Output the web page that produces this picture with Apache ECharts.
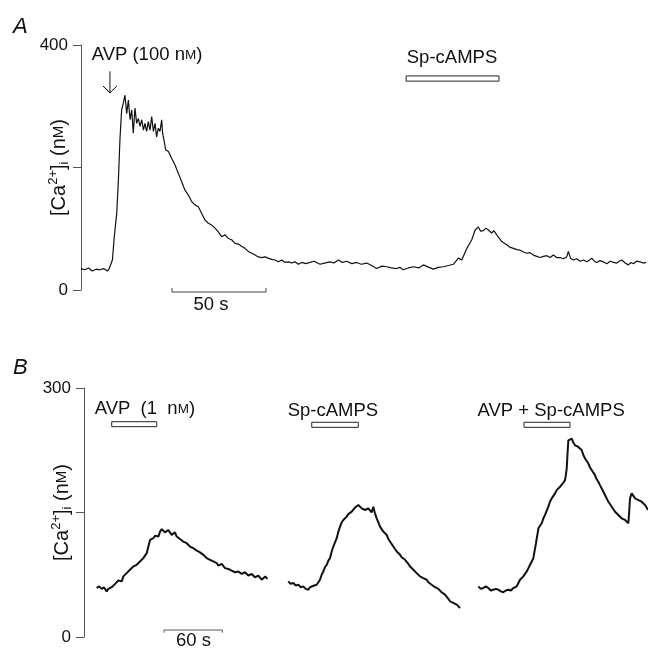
<!DOCTYPE html>
<html>
<head>
    <meta charset="UTF-8">
    <title>[Ca2+]i traces</title>
    <script src="https://cdn.jsdelivr.net/npm/echarts@6/dist/echarts.min.js"></script>
    <style>
        html, body { margin: 0; padding: 0; background: #fff; }
        #chart { width: 648px; height: 650px; }
    </style>
</head>
<body>
<div id="chart"></div>
<script>
    // panel A: [time (s), [Ca2+]i (nM)]
    const traceA = [
        [0,35],[2,33],[4,36],[6,31],[8,34],[10,33],[12,35],[14,31],[15,35],[16.7,49],[17.7,87],[19,125],[19.9,180],[20.7,245],
        [21.6,294],[22.5,305],[23.4,318],[24.3,288],[25.2,310],[26.1,278],[27,294],[27.8,256],[28.7,297],[29.6,272],[30.5,280],
        [31.4,267],[32.3,278],[33.2,261],[34,272],[34.9,259],[35.8,275],[36.7,261],[37.6,283],[38.5,259],[39.4,272],[40.2,250],
        [41.1,264],[42,259],[42.9,278],[43.4,256],[44.3,242],[45,229],[46.5,226],[48.2,215],[50,204],[51.8,190],[53.5,177],
        [55.3,163],[57.1,155],[58.9,144],[60.6,139],[62.4,136],[64.2,125],[66,114],[67.7,109],[69.5,106],[71.3,101],[73,95],
        [74.8,87],[76.6,90],[78.4,84],[80.1,82],[81.9,76],[83.7,75],[85.5,71],[87.2,68],[89,63],[90.8,60],[92.6,57],[94.3,54],
        [96.1,53],[97.9,54],[99.6,52],[101.4,50],[103.2,49],[105,46],[106.7,49],[108.5,45],[110.3,46],[112,44],[113.8,46],
        [115.6,42],[117.4,45],[119.5,43],[121.8,45],[124,47],[127.1,42],[129.5,44],[132.4,46],[134.5,44],[136.9,49],[139,45],
        [141.3,47],[144,43],[146.6,45],[149,42],[152,44],[154.5,40],[157.3,35],[160,39],[162.6,38],[165,36],[167.9,35],
        [169.5,37],[171.4,33],[174,36],[176.8,38],[179.5,36],[182.1,41],[185,37],[187.4,34],[190,37],[192.7,38],[195.5,40],
        [198,42],[200.7,52],[202.5,49],[205.2,68],[207.8,82],[209.6,98],[211.3,103],[212.5,96],[214,97],[215.3,101],[216.6,98],
        [218.4,93],[219.5,97],[221.1,90],[223.8,79],[226.4,74],[228,70],[230,68],[231.8,66],[233.5,65],[235.3,62],[237.1,60],
        [238.8,61],[240.6,57],[242.4,55],[244.1,53],[246,55],[247.7,56],[249.5,53],[251.2,57],[253,53],[254.8,53],[256.5,51],
        [258.3,54],[259.2,63],[260.3,52],[261.9,49],[263.6,51],[265.4,47],[267.2,49],[269,46],[270.5,49],[271.6,52],[273,47],
        [274.3,45],[276,48],[277.8,46],[279.6,43],[281.4,47],[283.2,45],[284.9,44],[286.2,47],[287.6,49],[289.4,44],[291.1,41],
        [292.5,45],[293.8,43],[295.5,47],[297.3,46],[299,44],[300.5,45]
    ];

    // panel B: three separate recordings on one time axis
    const traceB1 = [
        [13,59],[15.5,61],[18.2,58],[20.5,60],[23.3,55],[25,58],[26.7,57],[28.5,60],[30.2,61],[32,64],[33.6,65],[35.3,68],
        [37,69],[38.8,67],[40.5,73],[42.2,71],[43.9,77],[45.6,75],[47.3,81],[49,79],[50.7,85],[52.5,83],[54.2,87],[56,86],
        [57.6,91],[59.3,89],[61,95],[62.7,97],[64.5,101],[66.2,109],[67.9,117],[69.6,116],[71.3,119],[73,122],[74.7,123],
        [76.5,121],[78.2,127],[80,130],[81.6,129],[83.3,126],[85,127],[86.7,129],[88.4,126],[90.2,123],[91.9,124],[93.6,126],
        [95.3,121],[97,119],[98.7,118],[100.4,120],[102.1,115],[103.8,116],[105.6,113],[107.3,111],[109,109],[110.7,110],
        [112.4,107],[114.2,105],[115.9,104],[117.6,105],[119.3,102],[121,100],[122.7,99],[124.5,98],[126.2,95],[128,96],
        [129.6,93],[131.3,92],[133,91],[134.8,90],[136.5,89],[138.2,86],[139.9,87],[141.6,88],[143.3,86],[145,83],[146.7,84],
        [148.4,82],[150.1,82],[151.8,80],[153.5,81],[155.2,78],[157,80],[158.7,79],[160.4,78],[162.1,76],[163.8,77],[165.5,78],
        [167.3,76],[169,74],[170.7,75],[172.4,76],[174.1,75],[175.8,72],[177.6,73],[179.3,74],[181,72],[182.7,69],[184.4,71],
        [186.5,73],[188.5,70]
    ];
    const traceB2 = [
        [210,67],[212.5,64],[215.2,65],[217.8,62],[220.4,63],[223,60],[225.5,61],[228,58],[230.7,57],[232.4,60],[234.1,59],
        [236.7,62],[239.3,63],[241,66],[242.7,69],[244.4,75],[246.1,79],[247.8,84],[249.6,87],[251.3,92],[253,95],[254.7,103],
        [256.4,109],[258.1,114],[259.9,119],[261.6,127],[263.3,133],[265,138],[266.7,141],[268.4,143],[270.1,145],[271.8,148],
        [273.6,149],[275.3,151],[277,153],[278.7,156],[280.4,154],[282.1,159],[283.8,157],[285.6,155],[287.3,156],[289,153],
        [290.7,151],[292.4,155],[294.1,153],[295.8,150],[297.5,157],[299.2,149],[301,143],[302.7,138],[304.4,133],[306.1,130],
        [307.8,127],[309.5,125],[311.3,123],[313,118],[314.7,115],[316.4,112],[318.1,109],[319.8,106],[321.6,103],[323.3,101],
        [325,99],[326.7,96],[328.4,95],[330.1,93],[331.8,91],[333.6,88],[335.3,85],[337,83],[338.7,81],[340.4,79],[342.1,77],
        [343.8,75],[345.5,73],[347.2,72],[348.9,71],[350.7,70],[352.4,69],[354.1,66],[355.8,65],[357.5,63],[359.2,61],[361,60],
        [362.7,59],[364.4,58],[366.1,57],[367.8,54],[369.5,53],[371.2,51],[373,49],[374.7,46],[376.4,43],[378.1,44],[379.8,41],
        [381.5,42],[383.3,39],[385,37],[386.7,35]
    ];
    const traceB3 = [
        [405.5,61],[408,58],[410.6,59],[413.2,61],[415.8,59],[418.3,56],[420.9,57],[423.5,58],[426.1,57],[428.6,55],[431.2,54],
        [433.8,56],[436.4,57],[439,56],[441.5,59],[443.3,60],[445,61],[446.7,65],[448.4,69],[450.1,71],[451.8,73],[453.5,76],
        [455.3,79],[457,83],[458.7,87],[460.4,91],[462.1,95],[463,101],[463.9,107],[464.8,113],[465.6,119],[466.5,125],
        [467.3,131],[469,134],[470.7,137],[472.4,143],[474.1,147],[475.8,152],[477.5,157],[479.2,163],[481,167],[482.7,170],
        [484.4,173],[486.1,177],[487.8,179],[489.5,181],[491.3,183],[493,186],[494.7,189],[495.5,195],[496.4,203],[497.2,220],
        [498.1,237],[499.8,235],[501.6,239],[503.3,234],[505,231],[506.7,233],[508.4,229],[510.1,227],[511.9,225],[513.6,219],
        [515.3,215],[517,212],[518.7,209],[520.5,204],[522.2,201],[523.8,198],[525.5,195],[527.2,190],[528.9,187],[530.6,183],
        [532.4,179],[534.1,175],[535.8,171],[537.5,167],[539.2,163],[541,160],[542.7,157],[544.4,154],[546.1,151],[547.8,149],
        [549.5,147],[551.2,145],[552.9,143],[554.6,142],[556.4,141],[558.1,139],[559.8,137],[560.6,150],[561.5,167],[563.2,173],
        [565,170],[566.7,167],[568.4,166],[570.1,165],[571.8,163],[573.5,163],[575.2,161],[576.9,159],[578.6,156],[580,153]
    ];

    // drug application bars: [t start, t end, nM low, nM high]
    const barsA = [[172.9, 222.3, 341, 349.5]];
    const barsB = [[28.5, 74.8, 253.4, 259.4], [234.2, 282.1, 252.6, 258.7], [452.5, 499.8, 252.6, 258.7]];

    // text annotations in axis units
    const labelsA = [
        {value: [35.1, 384], text: 'AVP (100 n{sc|M})'},
        {value: [197.3, 379], text: 'Sp-cAMPS'},
        {value: [69.1, -24.5], text: '50 s'}
    ];
    const labelsB = [
        {value: [62.6, 274.7], text: 'AVP  (1  n{sc|M})'},
        {value: [256, 272.3], text: 'Sp-cAMPS'},
        {value: [480.4, 272.3], text: 'AVP + Sp-cAMPS'},
        {value: [112.6, -4.8], text: '60 s'}
    ];

    // arrow and scale bars, axis units
    const arrowA = [[15.4, 357], [15.4, 322], [11.7, 333], [15.4, 322], [19.1, 333]];
    const scaleA = [[48.4, 3.3], [48.4, -3.3], [98.4, -3.3], [98.4, 3.3]];
    const scaleB = [[82.3, 5.2], [82.3, 8.4], [142.3, 8.4], [142.3, 5.2]];

    const FONT = "'Liberation Sans', Arial, sans-serif";
    const INK = '#111';
    const rich = {
        sc: {fontSize: 13.5, fontFamily: FONT, color: INK},
        sup: {fontSize: 13, fontFamily: FONT, color: INK, verticalAlign: 'top', lineHeight: 13},
        sub: {fontSize: 13, fontFamily: FONT, color: INK, verticalAlign: 'bottom', lineHeight: 13},
        base: {fontSize: 20, fontFamily: FONT, color: INK, lineHeight: 24},
        bsc: {fontSize: 15, fontFamily: FONT, color: INK}
    };

    function toAreas(bars) {
        return bars.map(b => [{coord: [b[0], b[3]]}, {coord: [b[1], b[2]]}]);
    }

    function yAxisFor(grid, max, step) {
        return {
            type: 'value', gridIndex: grid, min: 0, max: max, interval: step,
            name: '{base|[Ca}{sup|2+}{base|]}{sub|i}{base| (n}{bsc|M}{base|)}',
            nameLocation: 'middle', nameRotate: 90, nameGap: 10, nameMoveOverlap: false,
            nameTextStyle: {fontFamily: FONT, fontSize: 20, color: INK, rich: rich},
            axisLine: {show: true, lineStyle: {color: '#555', width: 1}},
            axisTick: {show: true, length: 8, lineStyle: {color: '#555'}},
            axisLabel: {
                margin: 13, fontSize: 17, fontFamily: FONT, color: INK,
                formatter: v => (v === 0 || v === max) ? String(v) : ''
            },
            splitLine: {show: false}
        };
    }

    function traceSeries(data, axis, width, areas) {
        const s = {
            type: 'line', data: data, xAxisIndex: axis, yAxisIndex: axis,
            showSymbol: false, symbol: 'none', silent: true, animation: false,
            lineStyle: {color: '#111', width: width}
        };
        if (areas) {
            s.markArea = {
                silent: true,
                itemStyle: {color: '#fff', borderColor: '#222', borderWidth: 1, opacity: 1},
                data: areas
            };
        }
        return s;
    }

    function strokeSeries(data, axis, color) {
        return {
            type: 'line', data: data, xAxisIndex: axis, yAxisIndex: axis, clip: false,
            showSymbol: false, symbol: 'none', silent: true, animation: false,
            lineStyle: {color: color, width: 1}
        };
    }

    function textSeries(labels, axis) {
        return {
            type: 'scatter', xAxisIndex: axis, yAxisIndex: axis, clip: false,
            symbolSize: 0, silent: true, animation: false,
            itemStyle: {opacity: 1, color: 'rgba(0,0,0,0)'},
            data: labels.map(l => ({value: l.value, text: l.text})),
            label: {
                show: true, position: 'inside', opacity: 1,
                fontSize: 18.5, fontFamily: FONT, color: INK,
                formatter: p => p.data.text,
                rich: rich
            }
        };
    }

    const chart = echarts.init(document.getElementById('chart'), null, {renderer: 'canvas'});
    chart.setOption({
        backgroundColor: '#fff',
        animation: false,
        title: [
            {text: 'A', left: 8, top: 11, textStyle: {fontSize: 22, fontStyle: 'italic', fontWeight: 'normal', fontFamily: FONT, color: INK}},
            {text: 'B', left: 8, top: 352, textStyle: {fontSize: 22, fontStyle: 'italic', fontWeight: 'normal', fontFamily: FONT, color: INK}}
        ],
        grid: [
            {left: 81, top: 45, width: 566, height: 245},
            {left: 84, top: 388, width: 564, height: 249}
        ],
        xAxis: [
            {type: 'value', gridIndex: 0, min: 0, max: 301, show: false},
            {type: 'value', gridIndex: 1, min: 0, max: 580, show: false}
        ],
        yAxis: [yAxisFor(0, 400, 200), yAxisFor(1, 300, 150)],
        series: [
            traceSeries(traceA, 0, 1.2, toAreas(barsA)),
            strokeSeries(arrowA, 0, '#111'),
            strokeSeries(scaleA, 0, '#444'),
            textSeries(labelsA, 0),
            traceSeries(traceB1, 1, 2, toAreas(barsB)),
            traceSeries(traceB2, 1, 2),
            traceSeries(traceB3, 1, 2),
            strokeSeries(scaleB, 1, '#555'),
            textSeries(labelsB, 1)
        ]
    });
</script>
</body>
</html>
